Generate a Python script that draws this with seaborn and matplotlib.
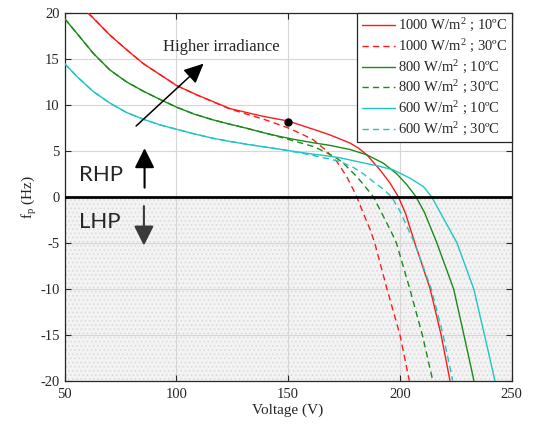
import numpy as np
import pandas as pd
import matplotlib
matplotlib.use("Agg")
import matplotlib.pyplot as plt
import seaborn as sns

# ─────────────────────────────────────────────
# DATA
# ─────────────────────────────────────────────
v_r10 = [60.6, 70.3, 77.8, 85.2, 92.7, 100.2, 109.1, 124.0, 139.0, 150.0, 161.3,
         168.7, 177.7, 181.5, 185.2, 191.1, 195.6, 199.3, 202.5, 206.5, 213.5,
         218.4, 222.4]
f_r10 = [20.0, 17.6, 16.0, 14.5, 13.3, 12.1, 11.1, 9.6, 8.75, 8.25, 7.35,
         6.74, 5.85, 5.3, 4.57, 2.93, 1.49, 0.0, -1.8, -4.9, -10.0,
         -15.0, -20.0]

v_r30 = [60.6, 70.3, 77.8, 85.2, 92.7, 100.2, 109.1, 124.0, 131.5, 139.0, 150.0,
         155.5, 161.3, 166.5, 171.8, 176.2, 179.2, 180.7, 183.6, 186.6, 188.7,
         194.2, 200.0, 204.2]
f_r30 = [20.0, 17.6, 16.0, 14.5, 13.3, 12.1, 11.1, 9.55, 9.0, 8.45, 7.5,
         6.9, 6.2, 5.15, 3.84, 2.2, 0.76, 0.0, -1.78, -3.5, -5.0,
         -10.0, -15.0, -20.0]

v_g10 = [50.0, 55.5, 62.9, 70.3, 77.8, 85.2, 92.7, 100.2, 108.0, 116.5, 124.0,
         131.5, 139.0, 146.4, 153.8, 161.3, 168.7, 177.7, 185.2, 192.6, 198.6,
         203.0, 207.2, 211.0, 216.5, 224.0, 228.6, 233.1]
f_g10 = [19.4, 17.8, 15.6, 13.8, 12.5, 11.5, 10.6, 9.75, 9.0, 8.37, 7.9,
         7.46, 6.98, 6.56, 6.2, 5.88, 5.6, 5.15, 4.57, 3.66, 2.5,
         1.35, 0.0, -1.7, -5.0, -10.0, -15.0, -20.0]

v_g30 = [50.0, 55.5, 62.9, 70.3, 77.8, 85.2, 92.7, 100.2, 108.0, 116.5, 124.0,
         131.5, 139.0, 146.4, 153.8, 161.3, 166.5, 171.8, 174.7, 180.7, 185.2,
         188.1, 191.9, 196.3, 198.4, 204.4, 210.0, 214.7]
f_g30 = [19.4, 17.8, 15.6, 13.8, 12.5, 11.5, 10.6, 9.75, 9.0, 8.37, 7.9,
         7.46, 6.98, 6.5, 6.0, 5.47, 4.9, 4.2, 3.66, 2.2, 0.9,
         0.0, -1.78, -3.9, -5.0, -10.0, -15.0, -20.0]

v_c10 = [50.0, 55.5, 62.9, 70.3, 77.8, 85.2, 92.7, 101.7, 108.0, 116.5, 124.0,
         131.5, 139.0, 146.4, 153.8, 161.3, 168.7, 173.2, 183.6, 190.5, 197.1,
         204.5, 210.5, 214.2, 218.5, 225.5, 233.0, 237.8, 242.5]
f_c10 = [14.5, 13.1, 11.45, 10.2, 9.17, 8.45, 7.83, 7.25, 6.85, 6.37, 6.03,
         5.72, 5.45, 5.18, 4.9, 4.64, 4.42, 4.25, 3.7, 3.35, 2.93,
         2.03, 1.12, 0.0, -1.9, -5.0, -10.0, -15.0, -20.0]

v_c30 = [50.0, 55.5, 62.9, 70.3, 77.8, 85.2, 92.7, 101.7, 108.0, 116.5, 124.0,
         131.5, 139.0, 146.4, 153.8, 161.3, 168.7, 173.2, 179.2, 184.0, 188.1,
         192.0, 196.3, 200.0, 206.5, 214.0, 219.3, 223.6]
f_c30 = [14.5, 13.1, 11.45, 10.2, 9.17, 8.45, 7.83, 7.25, 6.85, 6.37, 6.03,
         5.72, 5.45, 5.18, 4.85, 4.5, 4.1, 3.84, 3.2, 2.45, 1.65,
         0.95, 0.0, -1.55, -5.0, -10.0, -15.0, -20.0]

labels = ["1000 W/m$^2$ ; 10ºC", "1000 W/m$^2$ ; 30ºC",
          "800 W/m$^2$ ; 10ºC", "800 W/m$^2$ ; 30ºC",
          "600 W/m$^2$ ; 10ºC", "600 W/m$^2$ ; 30ºC"]

x_ticks = [50, 100, 150, 200, 250]
y_ticks = [-20, -15, -10, -5, 0, 5, 10, 15, 20]

op_point = (150, 8.1)

# ─────────────────────────────────────────────
# STYLE
# ─────────────────────────────────────────────
sns.set_style("ticks")
plt.rcParams['font.family'] = ['Liberation Serif', 'DejaVu Serif']
plt.rcParams['mathtext.fontset'] = 'custom'
plt.rcParams['mathtext.rm'] = 'Liberation Serif'
plt.rcParams['mathtext.it'] = 'Liberation Serif:italic'
plt.rcParams['axes.unicode_minus'] = False
plt.rcParams['hatch.linewidth'] = 0.6

RED, GREEN, CYAN = '#ff1a1a', '#1a8a1a', '#22c4c4'
DASH = (0, (4.5, 3))

series = [
    (v_r10, f_r10, RED, '-'), (v_r30, f_r30, RED, DASH),
    (v_g10, f_g10, GREEN, '-'), (v_g30, f_g30, GREEN, DASH),
    (v_c10, f_c10, CYAN, '-'), (v_c30, f_c30, CYAN, DASH),
]

fig = plt.figure(figsize=(5.35, 4.25), dpi=100)
ax = fig.add_axes([0.1206, 0.1042, 0.8359, 0.8652])

# LHP shaded region
ax.axhspan(-20, 0, facecolor='#f3f3f3', edgecolor='#d9d9d9', hatch='....',
           linewidth=0, zorder=0)

for (v, f, c, ls), lab in zip(series, labels):
    sns.lineplot(x=v, y=f, color=c, linestyle=ls, linewidth=1.0, label=lab,
                 estimator=None, sort=False, ax=ax, zorder=3)

ax.axhline(0, color='black', linewidth=2.0, zorder=4)
ax.plot(*op_point, 'o', color='black', markersize=5, zorder=5)

# arrows and annotations
ax.annotate('', xy=(113.1, 14.7), xytext=(81.1, 7.5),
            arrowprops=dict(arrowstyle='-|>,head_length=0.6,head_width=0.28',
                            mutation_scale=20, color='black', lw=1.1),
            zorder=6)
ax.text(120, 16.3, 'Higher irradiance', fontsize=12, ha='center', va='center')

ax.annotate('', xy=(85.8, 5.6), xytext=(85.8, 0.7),
            arrowprops=dict(arrowstyle='-|>,head_length=0.6,head_width=0.3',
                            mutation_scale=20, color='black', lw=1.5),
            zorder=6)
ax.annotate('', xy=(85.5, -5.6), xytext=(85.5, -0.7),
            arrowprops=dict(arrowstyle='-|>,head_length=0.6,head_width=0.3',
                            mutation_scale=20, color='#3a3a3a', lw=1.5),
            zorder=6)
ax.text(56.5, 2.4, 'RHP', fontsize=16, family='Lato', ha='left', va='center')
ax.text(56.5, -2.7, 'LHP', fontsize=16, family='Lato', ha='left', va='center')

# axes
ax.set_xlim(50, 250)
ax.set_ylim(-20, 20)
ax.set_xticks(x_ticks)
ax.set_yticks(y_ticks)
ax.grid(True, color='#d6d6d6', linewidth=0.8)
ax.set_axisbelow(True)
ax.tick_params(direction='in', length=4, width=0.8, labelsize=10.5,
               top=True, right=True, colors='#262626', labelcolor='#262626')
ax.tick_params(axis='x', pad=5)
for s in ax.spines.values():
    s.set_color('#262626')
    s.set_linewidth(0.9)
ax.set_xlabel('Voltage (V)', fontsize=11, color='#262626', labelpad=2)
ax.set_ylabel(r'f$_\mathrm{p}$ (Hz)', fontsize=11, color='#262626', labelpad=1)

leg = ax.legend(loc='upper right', borderaxespad=0, fontsize=10.5,
                frameon=True, fancybox=False, edgecolor='#262626',
                handlelength=2.3, handletextpad=0.2, labelspacing=0.25,
                borderpad=0.3, framealpha=1)
leg.get_frame().set_linewidth(0.9)

fig.savefig("out.png", dpi=100)
plt.close(fig)
